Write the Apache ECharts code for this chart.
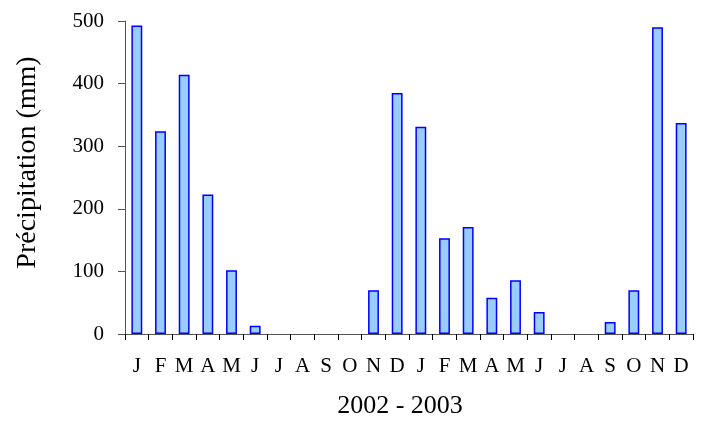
<!DOCTYPE html>
<html>
<head>
<meta charset="utf-8">
<script src="https://cdn.jsdelivr.net/npm/echarts@6/dist/echarts.min.js"></script>
<style>html,body{margin:0;padding:0;background:#fff}#c{width:707px;height:421px}</style>
</head>
<body>
<div id="c"></div>
<script>
const months = ["J","F","M","A","M","J","J","A","S","O","N","D","J","F","M","A","M","J","J","A","S","O","N","D"];
const precipitation = [493,324,414,223,102,13,0,0,0,0,70,385,331,153,171,58,86,35,0,0,19,70,490,337];
const yTicks = [0,100,200,300,400,500];
const yName = "Précipitation (mm)";
const xName = "2002 - 2003";

const chart = echarts.init(document.getElementById('c'), null, {renderer:'canvas'});
const font = "Liberation Serif";
chart.setOption({
  animation:false,
  grid:{left:125,right:14,top:21,bottom:87,containLabel:false,outerBoundsMode:'none'},
  xAxis:{
    type:'category', data:months,
    name:xName, nameLocation:'middle', nameGap:59,
    nameTextStyle:{fontFamily:font,fontSize:26,color:'#000',padding:[0,18,0,0]},
    axisLine:{lineStyle:{color:'#555',width:1}},
    axisTick:{show:true,alignWithLabel:false,length:6,lineStyle:{color:'#000'}},
    axisLabel:{fontFamily:font,fontSize:21,color:'#000',margin:22,interval:0}
  },
  yAxis:{
    type:'value', min:yTicks[0], max:yTicks[yTicks.length-1], interval:100,
    name:yName, nameLocation:'middle', nameGap:83, nameRotate:90,
    nameTextStyle:{fontFamily:font,fontSize:28,color:'#000',padding:[0,0,0,30]},
    axisLine:{show:true,lineStyle:{color:'#555',width:1}},
    axisTick:{show:true,length:7,lineStyle:{color:'#555'}},
    splitLine:{show:false},
    axisLabel:{fontFamily:font,fontSize:21,color:'#000',margin:21}
  },
  series:[{
    type:'bar',
    data:precipitation.map(v => v === 0 ? {value:v, itemStyle:{borderWidth:0}} : v),
    barWidth:'46%',
    itemStyle:{color:'#99CCFF',borderColor:'#0000FF',borderWidth:1.5}
  }]
});
</script>
</body>
</html>
